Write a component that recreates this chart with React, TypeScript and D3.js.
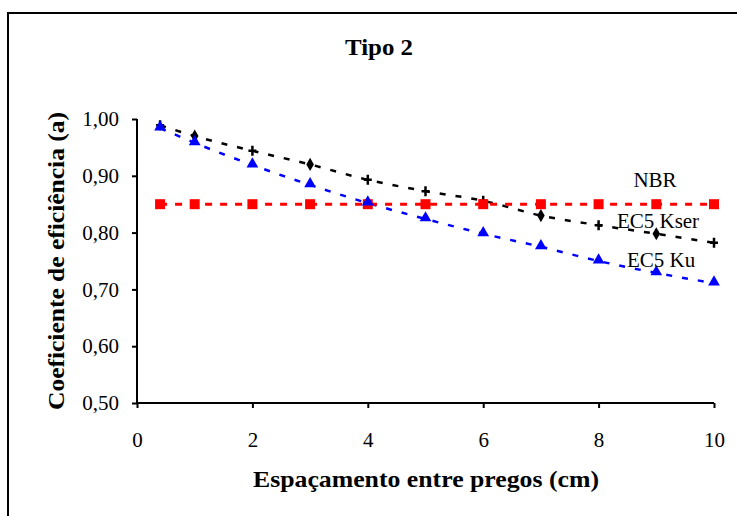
import React, { useEffect, useRef } from "react";
import * as d3 from "d3";

// data
const xValues = [0.4, 1, 2, 3, 4, 5, 6, 7, 8, 9, 10];
const nbr = [0.85, 0.85, 0.85, 0.85, 0.85, 0.85, 0.85, 0.85, 0.85, 0.85, 0.85];
const ec5Kser = [0.989, 0.97, 0.944, 0.92, 0.893, 0.873, 0.856, 0.83, 0.813, 0.798, 0.782];
const ec5Ku = [0.984, 0.958, 0.919, 0.884, 0.852, 0.824, 0.798, 0.775, 0.75, 0.729, 0.711];
const kserDiamondX = [1, 3, 7, 9];
const xTicks = [0, 2, 4, 6, 8, 10];
const yTicks = [0.5, 0.6, 0.7, 0.8, 0.9, 1.0];
const seriesLabels = ["NBR", "EC5 Kser", "EC5 Ku"];

const FONT = "Liberation Serif, Times New Roman, DejaVu Serif, serif";

const App = () => {
  const svgRef = useRef<SVGSVGElement>(null);

  useEffect(() => {
    const svg = d3.select(svgRef.current);
    svg.selectAll("*").remove();

    const left = 137;
    const right = 714;
    const top = 119;
    const bottom = 403;

    // outer frame
    svg
      .append("rect")
      .attr("x", 8)
      .attr("y", 13)
      .attr("width", 740)
      .attr("height", 520)
      .attr("fill", "white")
      .attr("stroke", "black")
      .attr("stroke-width", 2);

    const x = d3.scaleLinear().domain([0, 10]).range([left, right]);
    const y = d3.scaleLinear().domain([0.5, 1.0]).range([bottom, top]);

    // Title
    svg
      .append("text")
      .attr("x", 379)
      .attr("y", 55)
      .attr("text-anchor", "middle")
      .attr("textLength", 68)
      .attr("lengthAdjust", "spacingAndGlyphs")
      .style("font-family", FONT)
      .style("font-weight", "bold")
      .style("font-size", "23px")
      .text("Tipo 2");

    // Axes
    const yAxis = svg
      .append("g")
      .attr("transform", `translate(${left},0)`)
      .call(
        d3
          .axisLeft(y)
          .tickValues(yTicks)
          .tickSize(5)
          .tickPadding(13)
          .tickFormat((d) => d3.format(".2f")(d as number).replace(".", ","))
      );
    const xAxis = svg
      .append("g")
      .attr("transform", `translate(0,${bottom})`)
      .call(d3.axisBottom(x).tickValues(xTicks).tickSize(5).tickPadding(24));

    [xAxis, yAxis].forEach((g) => {
      g.attr("font-family", null).attr("font-size", null);
      g.select(".domain").attr("stroke", "black").attr("stroke-width", 2);
      g.selectAll(".tick line").attr("stroke", "black").attr("stroke-width", 2);
      g.selectAll(".tick text")
        .style("font-family", FONT)
        .style("font-size", "21px")
        .attr("fill", "black");
    });
    // remove the outer ticks of the domain path
    xAxis.select(".domain").attr("d", `M${left},0H${right}`);
    yAxis.select(".domain").attr("d", `M0,${top}V${bottom}`);

    // Axis titles
    svg
      .append("text")
      .attr("x", 426)
      .attr("y", 487)
      .attr("text-anchor", "middle")
      .attr("textLength", 346)
      .attr("lengthAdjust", "spacingAndGlyphs")
      .style("font-family", FONT)
      .style("font-weight", "bold")
      .style("font-size", "23px")
      .text("Espaçamento entre pregos (cm)");

    svg
      .append("text")
      .attr("transform", `translate(64,261) rotate(-90)`)
      .attr("text-anchor", "middle")
      .attr("textLength", 298)
      .attr("lengthAdjust", "spacingAndGlyphs")
      .style("font-family", FONT)
      .style("font-weight", "bold")
      .style("font-size", "23px")
      .text("Coeficiente de eficiência (a)");

    const line = (vals: number[]) =>
      d3
        .line<number>()
        .x((_, i) => x(xValues[i]))
        .y((d) => y(d))
        .curve(d3.curveMonotoneX)(vals);

    // lines
    svg
      .append("path")
      .attr("d", line(ec5Ku))
      .attr("fill", "none")
      .attr("stroke", "#0000ff")
      .attr("stroke-width", 2.5)
      .attr("stroke-dasharray", "6 10");
    svg
      .append("path")
      .attr("d", line(ec5Kser))
      .attr("fill", "none")
      .attr("stroke", "black")
      .attr("stroke-width", 2.5)
      .attr("stroke-dasharray", "6 10");
    svg
      .append("path")
      .attr("d", line(nbr))
      .attr("fill", "none")
      .attr("stroke", "#ff0000")
      .attr("stroke-width", 3)
      .attr("stroke-dasharray", "7 8");

    // Kser markers
    const diamond = d3.symbol().type(d3.symbolDiamond).size(50);
    svg
      .append("g")
      .selectAll("path")
      .data(ec5Kser)
      .join("path")
      .attr("transform", (d, i) => `translate(${x(xValues[i])},${y(d)})`)
      .attr("d", (_, i) =>
        kserDiamondX.includes(xValues[i]) ? diamond() : "M-4,0H4M0,-5V5"
      )
      .attr("fill", "black")
      .attr("stroke", "black")
      .attr("stroke-width", (_, i) => (kserDiamondX.includes(xValues[i]) ? 0 : 2.5));

    // NBR squares
    svg
      .append("g")
      .selectAll("rect")
      .data(nbr)
      .join("rect")
      .attr("x", (_, i) => x(xValues[i]) - 5)
      .attr("y", (d) => y(d) - 5)
      .attr("width", 10)
      .attr("height", 10)
      .attr("fill", "#ff0000");

    // Ku triangles
    const tri = d3.symbol().type(d3.symbolTriangle).size(60);
    svg
      .append("g")
      .selectAll("path")
      .data(ec5Ku)
      .join("path")
      .attr("transform", (d, i) => `translate(${x(xValues[i])},${y(d) - 1})`)
      .attr("d", tri())
      .attr("fill", "#0000ff");

    // series labels
    const labelPos = [
      [655, 187],
      [658, 228],
      [661, 267],
    ];
    svg
      .append("g")
      .selectAll("text")
      .data(seriesLabels)
      .join("text")
      .attr("x", (_, i) => labelPos[i][0])
      .attr("y", (_, i) => labelPos[i][1])
      .attr("text-anchor", "middle")
      .style("font-family", FONT)
      .style("font-size", "21px")
      .text((d) => d);
  }, []);

  return (
    <svg
      ref={svgRef}
      width={737}
      height={516}
      style={{ position: "absolute", left: 0, top: 0 }}
    />
  );
};

export default App;
